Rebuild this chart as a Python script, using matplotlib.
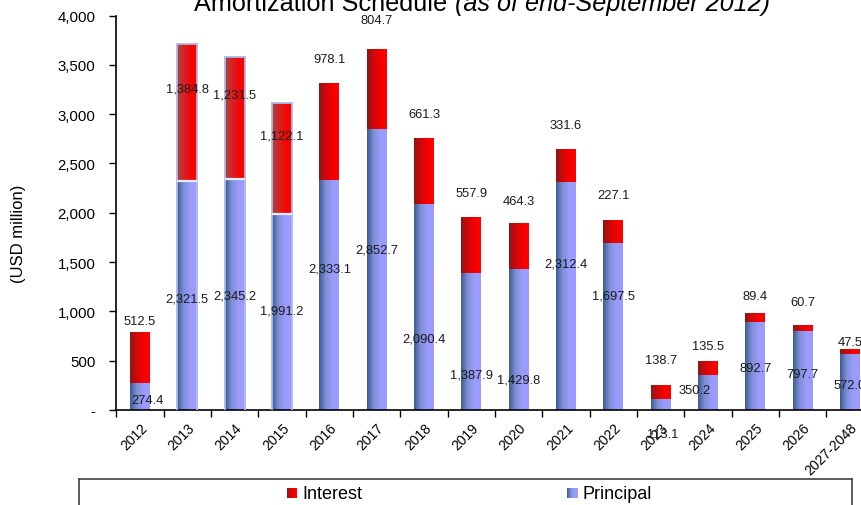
import numpy as np
import matplotlib
matplotlib.use("Agg")
import matplotlib.pyplot as plt
from matplotlib.colors import LinearSegmentedColormap
from matplotlib.patches import Rectangle
import matplotlib.transforms as mtransforms

plt.rcParams['font.family'] = ['Liberation Sans', 'DejaVu Sans']

categories = ['2012', '2013', '2014', '2015', '2016', '2017', '2018', '2019',
              '2020', '2021', '2022', '2023', '2024', '2025', '2026', '2027-2048']
principal = [274.4, 2321.5, 2345.2, 1991.2, 2333.1, 2852.7, 2090.4, 1387.9,
             1429.8, 2312.4, 1697.5, 113.1, 350.2, 892.7, 797.7, 572.0]
interest = [512.5, 1384.8, 1231.5, 1122.1, 978.1, 804.7, 661.3, 557.9,
            464.3, 331.6, 227.1, 138.7, 135.5, 89.4, 60.7, 47.5]
y_ticks = [0, 500, 1000, 1500, 2000, 2500, 3000, 3500, 4000]

# label placement (data units), as in the original chart
interest_label_y = [903, 3256, 3195, 2779, 3560, 3955, 3002, 2201,
                    2120, 2890, 2181, 507, 649, 1156, 1095, 690]
principal_label_y = [101, 1126, 1166, 1004, 1430, 1623, 720, 355,
                     314, 1481, 1156, -243, 203, 426, 365, 254]
principal_label_dx = [0.15, 0, 0, 0, 0, 0, 0, 0, 0, 0, 0, 0.05, -0.28, 0, 0, 0]
outlined = [False, True, True, True] + [False] * 12

W, H = 862, 506
fig = plt.figure(figsize=(W / 100, H / 100), dpi=100)
ax_left = 116.3 / W
ax_w = 16 * 47.34 / W
ax_bottom = 1 - 411 / H
ax_h = (411 - 16.5) / H
ax = fig.add_axes([ax_left, ax_bottom, ax_w, ax_h])

cmap_p = LinearSegmentedColormap.from_list('p', ['#3b5b93', '#7f8fd6', '#9a9cfb', '#9b9bff'])
cmap_i = LinearSegmentedColormap.from_list('i', ['#8c1616', '#d00808', '#f50000', '#ff0000'])
cmap_i2 = LinearSegmentedColormap.from_list('i2', ['#a84545', '#d42525', '#f00808', '#ff0000'])
grad = np.linspace(0, 1, 256)[None, :]

n = len(categories)
x = np.arange(n)
bw = 0.42

bars_p = ax.bar(x, principal, width=bw, color='none', edgecolor='none', zorder=3)
bars_i = ax.bar(x, interest, width=bw, bottom=principal, color='none', edgecolor='none', zorder=3)

def fill_gradient(patch, cmap):
    x0, y0 = patch.get_x(), patch.get_y()
    w, h = patch.get_width(), patch.get_height()
    im = ax.imshow(grad, extent=[x0, x0 + w, y0, y0 + h], cmap=cmap,
                   aspect='auto', interpolation='bilinear', zorder=2)
    return im

for i, (bp, bi) in enumerate(zip(bars_p, bars_i)):
    fill_gradient(bp, cmap_p)
    fill_gradient(bi, cmap_i2 if outlined[i] else cmap_i)
    if outlined[i]:
        x0 = bp.get_x()
        top = principal[i] + interest[i]
        ax.add_patch(Rectangle((x0, -30), bw, top + 30, fill=False,
                               edgecolor='#a9bbe9', lw=1.3, zorder=4))
        ax.plot([x0, x0 + bw], [principal[i], principal[i]], color='#e8ecf8',
                lw=1.6, zorder=4, solid_capstyle='butt')

for i in range(n):
    ax.text(x[i], interest_label_y[i], f'{interest[i]:,.1f}', ha='center', va='center',
            fontsize=9.3, color='#1a1a1a', zorder=5)
    ax.text(x[i] + principal_label_dx[i], principal_label_y[i], f'{principal[i]:,.1f}',
            ha='center', va='center', fontsize=9.3, color='#1a1a1a', zorder=5, clip_on=False)

ax.set_xlim(-0.5, n - 0.5)
ax.set_ylim(0, 4000)
ax.set_yticks(y_ticks)
ax.set_yticklabels(['-' if v == 0 else f'{v:,.0f}' for v in y_ticks], fontsize=10.8)
ax.tick_params(axis='y', direction='out', length=5, width=1, pad=10, colors='black')

ax.set_xticks(np.arange(-0.5, n, 1))
ax.set_xticklabels([])
ax.tick_params(axis='x', which='major', direction='out', length=5, width=1)
ax.set_xticks(x, minor=True)
ax.set_xticklabels(categories, minor=True, rotation=45, ha='right', va='center',
                   rotation_mode='anchor', fontsize=10)
ax.tick_params(axis='x', which='minor', length=0, pad=11)
offset = mtransforms.ScaledTranslation(5 / 100, 0, fig.dpi_scale_trans)
for lab in ax.xaxis.get_minorticklabels():
    lab.set_transform(lab.get_transform() + offset)

for s in ['top', 'right']:
    ax.spines[s].set_visible(False)
ax.spines['left'].set_linewidth(1.2)
ax.spines['bottom'].set_linewidth(1.2)
ax.set_facecolor('none')

fig.text(19 / W, 1 - 234 / H, '(USD million)', rotation=90, ha='center', va='center',
         fontsize=12)

# Title (partly cut off at the top edge, as in the original)
fig.canvas.draw()
r = fig.canvas.get_renderer()
ty = 1 - 11 / H
t1 = fig.text(0, ty, 'Amortization Schedule ', fontsize=18.2, va='baseline', ha='left')
t2 = fig.text(0, ty, '(as of end-September 2012)', fontsize=18.2, va='baseline', ha='left',
              style='italic')
w1 = t1.get_window_extent(r).width
w2 = t2.get_window_extent(r).width
start = 482 - (w1 + w2) / 2
t1.set_x(start / W)
t2.set_x((start + w1) / W)

# Legend box
lax = fig.add_axes([79 / W, -0.05, (852 - 79) / W, (506 - 480) / H + 0.05])
lax.set_xticks([])
lax.set_yticks([])
for s in lax.spines.values():
    s.set_color('#404040')
    s.set_linewidth(1.2)
lax.imshow(grad, extent=[287, 297, 499, 489], cmap=cmap_i, aspect='auto', zorder=2)
lax.imshow(grad, extent=[567, 578, 499, 489], cmap=cmap_p, aspect='auto', zorder=2)
lax.set_xlim(79, 852)
lax.set_ylim(506 + 0.05 * H, 480)
lax.text(302, 494.5, 'Interest', fontsize=13, va='center', ha='left')
lax.text(583, 494.5, 'Principal', fontsize=13, va='center', ha='left')

fig.savefig('out.png', dpi=100)
